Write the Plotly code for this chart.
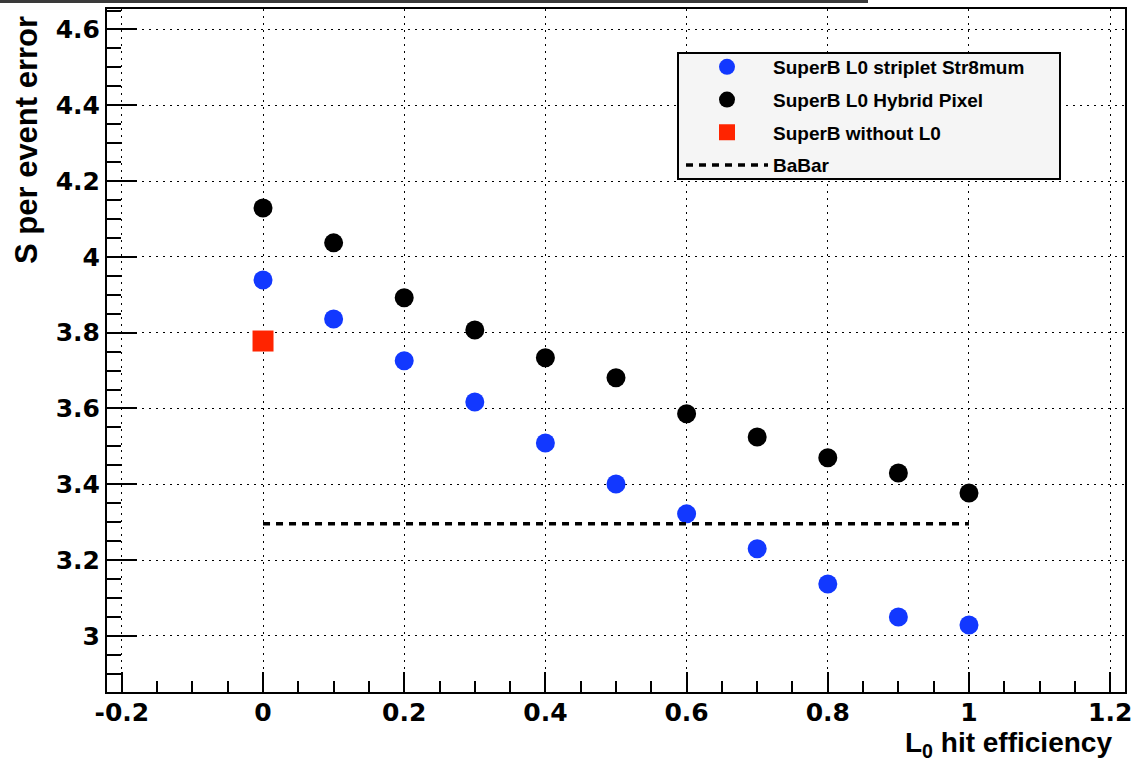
import plotly.graph_objects as go

# ---- data ----
efficiency = [0.0, 0.1, 0.2, 0.3, 0.4, 0.5, 0.6, 0.7, 0.8, 0.9, 1.0]
striplet = [3.939, 3.836, 3.726, 3.617, 3.509, 3.401, 3.322, 3.230, 3.137, 3.050, 3.029]
hybrid = [4.129, 4.037, 3.892, 3.807, 3.734, 3.681, 3.586, 3.525, 3.470, 3.430, 3.377]
no_l0_x = [0.0]
no_l0 = [3.778]
babar_x = [0.0, 1.0]
babar = [3.296, 3.296]
x_ticks = [-0.2, 0, 0.2, 0.4, 0.6, 0.8, 1, 1.2]
x_tick_text = ["-0.2", "0", "0.2", "0.4", "0.6", "0.8", "1", "1.2"]
y_ticks = [3, 3.2, 3.4, 3.6, 3.8, 4, 4.2, 4.4, 4.6]
y_tick_text = ["3", "3.2", "3.4", "3.6", "3.8", "4", "4.2", "4.4", "4.6"]

W, H = 1131, 761
L, R, T, B = 107, 1125, 9, 692
pw, ph = R - L, B - T


def px(x):
    return (x - L) / pw


def py(y):
    return (B - y) / ph


fig = go.Figure()
fig.add_trace(go.Scatter(x=efficiency, y=striplet, mode="markers", name="SuperB L0 striplet Str8mum",
                         marker=dict(symbol="circle", size=19, color="#1238ff"), legendgroup="a"))
fig.add_trace(go.Scatter(x=efficiency, y=hybrid, mode="markers", name="SuperB L0 Hybrid Pixel",
                         marker=dict(symbol="circle", size=19, color="black"), legendgroup="b"))
fig.add_trace(go.Scatter(x=no_l0_x, y=no_l0, mode="markers", name="SuperB without L0",
                         marker=dict(symbol="square", size=21, color="#ff2400"), legendgroup="c"))
fig.add_trace(go.Scatter(x=babar_x, y=babar, mode="lines", name="BaBar",
                         line=dict(color="black", width=3.5, dash="7px,6px"), legendgroup="d"))

tickfont = dict(family="DejaVu Sans", size=25, color="black", weight="bold")
axis_common = dict(
    showline=True, linecolor="black", linewidth=2, mirror=True, automargin=False,
    ticks="inside", tickcolor="black", tickwidth=2, ticklabeloverflow="allow",
    showgrid=True, gridcolor="black", gridwidth=1.2, griddash="2px,5px",
    zeroline=False, tickfont=tickfont,
)
fig.update_xaxes(range=[-0.221, 1.221], tickvals=x_ticks, ticktext=x_tick_text, ticklen=20,
                 ticklabelstandoff=-3,
                 minor=dict(ticks="inside", ticklen=11, dtick=0.05, tick0=0, tickcolor="black",
                            tickwidth=2, showgrid=False),
                 **axis_common)
fig.update_yaxes(range=[2.852, 4.654], tickvals=y_ticks, ticktext=y_tick_text, ticklen=30,
                 ticklabelstandoff=0,
                 minor=dict(ticks="inside", ticklen=14, dtick=0.05, tick0=0, tickcolor="black",
                            tickwidth=2, showgrid=False),
                 **axis_common)

shapes = [
    # legend box
    dict(type="rect", xref="paper", yref="paper", x0=px(678), x1=px(1060), y0=py(179), y1=py(53),
         fillcolor="#f5f5f5", line=dict(color="black", width=2), layer="above"),
    # top window bar
    dict(type="rect", xref="paper", yref="paper", x0=px(0), x1=px(868), y0=py(3), y1=py(0),
         fillcolor="#3a3a3a", line=dict(width=0), layer="above"),
]

annotations = [
    dict(text="L<sub>0</sub> hit efficiency", xref="paper", yref="paper", x=px(1114), y=py(744),
         xanchor="right", yanchor="middle", showarrow=False,
         font=dict(family="Liberation Sans", size=28, color="black", weight="bold")),
    dict(text="S per event error", xref="paper", yref="paper", x=px(27), y=py(140),
         xanchor="center", yanchor="middle", textangle=-90, showarrow=False,
         font=dict(family="Liberation Sans", size=31, color="black", weight="bold")),
]

fig.update_layout(
    width=W, height=H,
    margin=dict(l=L, r=W - R, t=T, b=H - B, autoexpand=False),
    paper_bgcolor="white", plot_bgcolor="white",
    shapes=shapes, annotations=annotations,
    showlegend=True,
    legend=dict(x=px(681), y=py(48), xanchor="left", yanchor="top",
                bgcolor="rgba(0,0,0,0)", borderwidth=0,
                font=dict(family="Liberation Sans", size=19, color="black", weight="bold"),
                itemwidth=82, itemsizing="trace", traceorder="grouped", tracegroupgap=5),
)

fig.write_html("out.html")
